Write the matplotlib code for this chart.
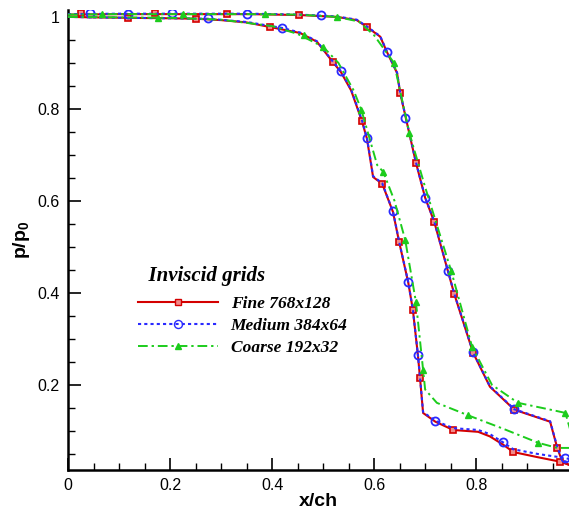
import matplotlib
matplotlib.use("Agg")
import matplotlib.pyplot as plt
from matplotlib.lines import Line2D
from matplotlib.ticker import MultipleLocator, FuncFormatter

plt.rcParams["font.family"] = "Liberation Sans"
plt.rcParams["mathtext.fontset"] = "custom"
plt.rcParams["mathtext.bf"] = "Liberation Sans:bold"
plt.rcParams["mathtext.rm"] = "Liberation Sans"

# ---- data: x/ch, p/p0 ----
# fine grid, lower-pressure surface (A) and higher-pressure surface (B)
fine_ax = [0, 0.05, 0.118, 0.2, 0.251, 0.3, 0.35, 0.396, 0.455, 0.488, 0.519, 0.535, 0.555,
           0.576, 0.586, 0.598, 0.616, 0.637, 0.649, 0.667, 0.676, 0.686, 0.69, 0.696, 0.72,
           0.755, 0.804, 0.827, 0.853, 0.873, 0.92, 0.965, 0.985]
fine_ay = [1.0, 0.999, 0.998, 0.997, 0.996, 0.993, 0.988, 0.978, 0.965, 0.946, 0.902, 0.88, 0.84,
           0.774, 0.735, 0.652, 0.637, 0.576, 0.511, 0.422, 0.363, 0.263, 0.215, 0.139, 0.12,
           0.102, 0.098, 0.088, 0.07, 0.054, 0.043, 0.033, 0.025]
fine_bx = [0, 0.1, 0.2, 0.357, 0.455, 0.527, 0.566, 0.586, 0.612, 0.625, 0.645, 0.651, 0.682,
           0.70, 0.718, 0.745, 0.757, 0.794, 0.827, 0.875, 0.945, 0.959, 0.969, 0.985]
fine_by = [1.005, 1.006, 1.006, 1.006, 1.004, 1.0, 0.993, 0.978, 0.957, 0.924, 0.878, 0.835, 0.683,
           0.607, 0.554, 0.446, 0.398, 0.27, 0.196, 0.146, 0.12, 0.063, 0.033, 0.025]
fine_mx = [0.118, 0.251, 0.396, 0.52, 0.576, 0.616, 0.649, 0.676, 0.69, 0.755, 0.873, 0.965,
           0.025, 0.171, 0.312, 0.453, 0.586, 0.651, 0.682, 0.718, 0.757, 0.794, 0.875, 0.959]
fine_my = [0.998, 0.996, 0.978, 0.902, 0.774, 0.637, 0.511, 0.363, 0.215, 0.102, 0.054, 0.033,
           1.008, 1.008, 1.006, 1.004, 0.978, 0.835, 0.683, 0.554, 0.398, 0.27, 0.146, 0.063]

# medium grid
med_ax = [0, 0.05, 0.118, 0.2, 0.275, 0.35, 0.42, 0.455, 0.488, 0.519, 0.535, 0.555, 0.576,
          0.586, 0.598, 0.616, 0.637, 0.649, 0.667, 0.676, 0.686, 0.69, 0.696, 0.72, 0.755,
          0.804, 0.827, 0.853, 0.873, 0.92, 0.975, 0.985]
med_ay = [1.0, 0.999, 0.998, 0.997, 0.996, 0.989, 0.976, 0.966, 0.947, 0.903, 0.882, 0.842, 0.776,
          0.737, 0.654, 0.638, 0.577, 0.512, 0.423, 0.364, 0.264, 0.216, 0.141, 0.122, 0.106,
          0.102, 0.093, 0.075, 0.06, 0.05, 0.041, 0.038]
med_bx = [0, 0.1, 0.2, 0.357, 0.455, 0.527, 0.566, 0.586, 0.612, 0.625, 0.645, 0.651, 0.682,
          0.70, 0.718, 0.745, 0.757, 0.794, 0.827, 0.875, 0.945, 0.959, 0.969, 0.985]
med_by = [1.006, 1.007, 1.007, 1.007, 1.005, 1.001, 0.994, 0.979, 0.958, 0.925, 0.879, 0.836, 0.684,
          0.608, 0.555, 0.447, 0.399, 0.271, 0.197, 0.147, 0.121, 0.065, 0.036, 0.03]
med_mx = [0.118, 0.275, 0.42, 0.535, 0.586, 0.637, 0.667, 0.686, 0.72, 0.853, 0.975,
          0.043, 0.204, 0.35, 0.496, 0.625, 0.661, 0.70, 0.745, 0.794, 0.875]
med_my = [1.006, 0.998, 0.976, 0.882, 0.737, 0.577, 0.423, 0.264, 0.122, 0.075, 0.041,
          1.008, 1.009, 1.006, 1.004, 0.924, 0.78, 0.607, 0.447, 0.271, 0.147]

# coarse grid
crs_ax = [0, 0.1, 0.2, 0.3, 0.4, 0.45, 0.5, 0.53, 0.56, 0.575, 0.59, 0.606, 0.618, 0.64,
          0.661, 0.682, 0.696, 0.70, 0.723, 0.784, 0.85, 0.922, 0.959, 0.985]
crs_ay = [1.0, 0.999, 0.998, 0.994, 0.98, 0.963, 0.935, 0.9, 0.84, 0.798, 0.74, 0.678, 0.663,
          0.6, 0.515, 0.38, 0.233, 0.19, 0.161, 0.134, 0.106, 0.074, 0.063, 0.063]
crs_bx = [0, 0.1, 0.2, 0.35, 0.45, 0.527, 0.57, 0.6, 0.639, 0.669, 0.70, 0.751, 0.792, 0.831,
          0.882, 0.959, 0.975, 0.985]
crs_by = [1.005, 1.006, 1.006, 1.006, 1.005, 1.0, 0.99, 0.96, 0.9, 0.748, 0.63, 0.448, 0.283,
          0.2, 0.161, 0.143, 0.139, 0.1]
crs_mx = [0.176, 0.463, 0.5, 0.575, 0.618, 0.661, 0.682, 0.696, 0.784, 0.922,
          0.067, 0.226, 0.387, 0.527, 0.639, 0.669, 0.751, 0.792, 0.882, 0.975]
crs_my = [0.998, 0.96, 0.935, 0.798, 0.663, 0.515, 0.38, 0.233, 0.134, 0.074,
          1.007, 1.007, 1.006, 1.0, 0.9, 0.748, 0.448, 0.283, 0.161, 0.139]

labels = ["Fine 768x128", "Medium 384x64", "Coarse 192x32"]

RED, BLUE, GREEN = "#d40000", "#2a2aff", "#1ccc1c"
SQ, CI, TR = 4.3, 5.8, 4.3

fig = plt.figure(figsize=(5.69, 5.18), dpi=100)
ax = fig.add_axes([68 / 569, 48 / 518, 1 - 68 / 569, 460 / 518])

# fine
ax.plot(fine_ax, fine_ay, color=RED, lw=1.5, zorder=3)
ax.plot(fine_bx, fine_by, color=RED, lw=1.5, zorder=3)
ax.plot(fine_mx, fine_my, ls="none", marker="s", ms=SQ, mec=RED, mfc="#f08a8a", mew=1.2, zorder=4)
# medium
ax.plot(med_ax, med_ay, color=BLUE, lw=1.5, ls=(0, (1.5, 1.5)), zorder=4)
ax.plot(med_bx, med_by, color=BLUE, lw=1.5, ls=(0, (1.5, 1.5)), zorder=4)
ax.plot(med_mx, med_my, ls="none", marker="o", ms=CI, mec=BLUE, mfc="none", mew=1.3, zorder=5)
# coarse
ax.plot(crs_ax, crs_ay, color=GREEN, lw=1.4, ls=(0, (5, 2, 1.2, 2)), zorder=5)
ax.plot(crs_bx, crs_by, color=GREEN, lw=1.4, ls=(0, (5, 2, 1.2, 2)), zorder=5)
ax.plot(crs_mx, crs_my, ls="none", marker="^", ms=TR, mec=GREEN, mfc=GREEN, zorder=6)

ax.set_xlim(0, 0.982)
ax.set_ylim(0.015, 1.015)

for s in ["top", "right"]:
    ax.spines[s].set_visible(False)
for s in ["left", "bottom"]:
    ax.spines[s].set_linewidth(1.8)

ax.xaxis.set_major_locator(MultipleLocator(0.2))
ax.xaxis.set_minor_locator(MultipleLocator(0.05))
ax.yaxis.set_major_locator(MultipleLocator(0.2))
ax.yaxis.set_minor_locator(MultipleLocator(0.05))
fmt = FuncFormatter(lambda v, p: "%g" % round(v, 3))
ax.xaxis.set_major_formatter(fmt)
ax.yaxis.set_major_formatter(fmt)
ax.tick_params(which="major", direction="in", length=9, width=1.2, labelsize=11.5, pad=6)
ax.tick_params(which="minor", direction="in", length=5, width=1.0)
ax.tick_params(top=False, right=False, which="both")

ax.set_xlabel("x/ch", fontsize=14, fontweight="bold", labelpad=0)
ax.set_ylabel(r"$\mathbf{p/p_0}$", fontsize=14, labelpad=4)

handles = [
    Line2D([], [], color=RED, lw=1.5, marker="s", ms=SQ, mec=RED, mfc="#f08a8a"),
    Line2D([], [], color=BLUE, lw=1.5, ls=(0, (1.5, 1.5)), marker="o", ms=CI, mec=BLUE, mfc="none"),
    Line2D([], [], color=GREEN, lw=1.4, ls=(0, (5, 2, 1.2, 2)), marker="^", ms=TR, mec=GREEN, mfc=GREEN),
]
leg = ax.legend(handles, labels, title="  Inviscid grids", loc="upper left",
                bbox_to_anchor=(0.108, 0.477), frameon=False, numpoints=1,
                handlelength=4.6, handletextpad=0.75, labelspacing=0.33,
                prop={"family": "Liberation Serif", "weight": "bold", "style": "italic", "size": 12.5},
                alignment="left")
leg.get_title().set_fontproperties({"family": "Liberation Serif", "weight": "bold",
                                    "style": "italic", "size": 15})
leg._legend_box.sep = 7

fig.savefig("out.png", dpi=100)
